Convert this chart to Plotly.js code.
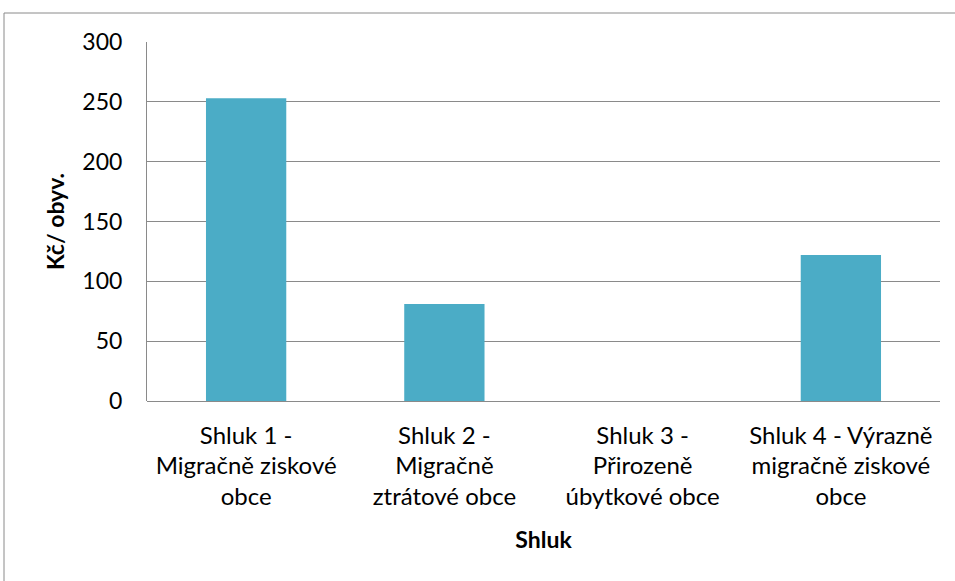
<!DOCTYPE html>
<html>
<head>
<meta charset="utf-8">
<script src="https://cdn.plot.ly/plotly-3.0.1.min.js"></script>
<style>
html,body{margin:0;padding:0;background:#fff;}
#chart{width:955px;height:581px;}
</style>
</head>
<body>
<div id="chart"></div>
<script>
const categories = ["Shluk 1 - Migračně ziskové obce", "Shluk 2 - Migračně ztrátové obce", "Shluk 3 - Přirozeně úbytkové obce", "Shluk 4 - Výrazně migračně ziskové obce"];
const tickLines = [
  ["Shluk 1 -", "Migračně ziskové", "obce"],
  ["Shluk 2 -", "Migračně", "ztrátové obce"],
  ["Shluk 3 -", "Přirozeně", "úbytkové obce"],
  ["Shluk 4 - Výrazně", "migračně ziskové", "obce"]
];
const values = [253, 81, 0, 122];
const yTickVals = [0, 50, 100, 150, 200, 250, 300];

const fontFam = "Lato, 'Open Sans', sans-serif";
const tickText = tickLines.map(l => l.map(s => '<span style="font-size:24px">' + s + '</span>').join('<br>'));

const trace = {
  type: 'bar',
  x: categories,
  y: values,
  marker: {color: '#4BACC6', line: {width: 0}},
  width: 0.405,
  hoverinfo: 'x+y'
};

const layout = {
  width: 955, height: 581,
  margin: {l: 147, r: 15, t: 42, b: 180},
  paper_bgcolor: '#fff', plot_bgcolor: '#fff',
  showlegend: false,
  font: {family: fontFam, color: '#000'},
  xaxis: {
    type: 'category',
    tickvals: categories,
    ticktext: tickText,
    tickfont: {size: 23.5, family: fontFam, color: '#000'},
    ticks: '', showline: false, showgrid: false, zeroline: false,
    ticklabelstandoff: 18,
    title: {text: '<b>Shluk</b>', font: {size: 23, family: fontFam, color: '#000'}, standoff: 23}
  },
  yaxis: {
    range: [0, 300],
    tickvals: yTickVals,
    ticktext: yTickVals.map(String),
    tickfont: {size: 23, family: fontFam, color: '#000'},
    ticks: '', ticklen: 0,
    ticklabelstandoff: 19,
    showgrid: true, gridcolor: '#8a8a8a', gridwidth: 1,
    showline: true, linecolor: '#8a8a8a', linewidth: 1,
    zeroline: true, zerolinecolor: '#8a8a8a', zerolinewidth: 1,
    title: {text: '<b>Kč/ obyv.</b>', font: {size: 23, family: fontFam, color: '#000'}, standoff: 11}
  },
  shapes: [{
    type: 'rect', xref: 'paper', yref: 'paper',
    x0: (4 - 147) / 793, x1: (970 - 147) / 793,
    y0: (401 - 600) / 359, y1: (401 - 13) / 359,
    line: {color: '#8a8a8a', width: 1}, fillcolor: 'rgba(0,0,0,0)', layer: 'below'
  }]
};

Plotly.newPlot('chart', [trace], layout, {displayModeBar: false, staticPlot: true});
</script>
</body>
</html>
